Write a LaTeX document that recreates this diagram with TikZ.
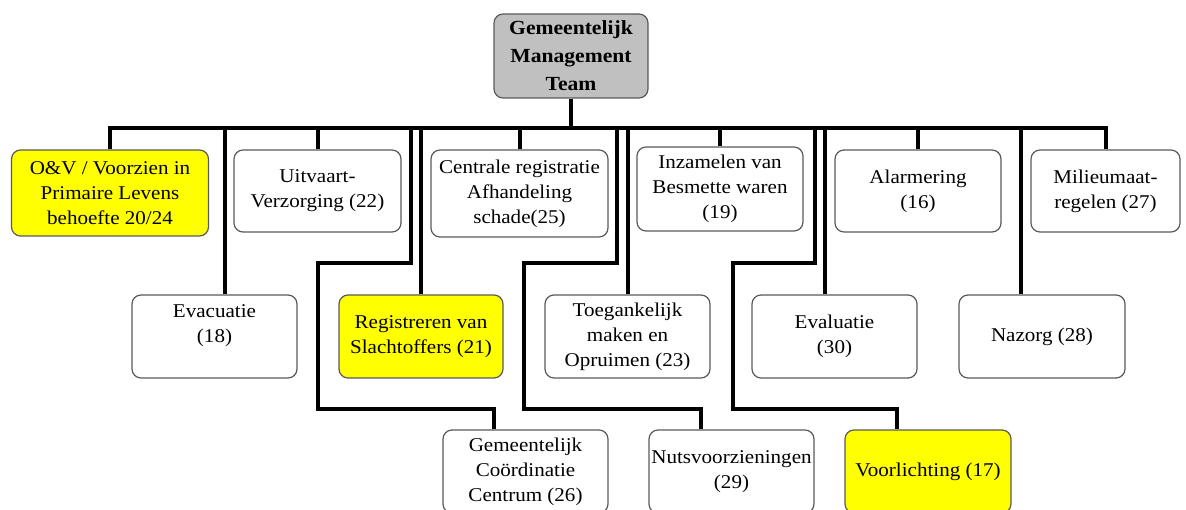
\documentclass[tikz,border=0pt]{standalone}
\usepackage{fontspec}
\setmainfont{Liberation Serif}[FakeStretch=1.08]
\usetikzlibrary{calc}
\definecolor{boxline}{HTML}{5A5A5A}
\definecolor{topfill}{HTML}{C0C0C0}
\definecolor{hl}{HTML}{FFFF00}
\begin{document}
\begin{tikzpicture}[x=1pt,y=-1pt,
  box/.style={draw=boxline,line width=1.2pt,rounded corners=9pt,fill=white,
    align=center,inner sep=0pt,minimum height=83pt,minimum width=165pt,
    font=\fontsize{19.5}{25}\selectfont},
  yel/.style={fill=hl},
  conn/.style={line width=4pt,black,line join=miter}]
\useasboundingbox (0,0) rectangle (1186,510);
\clip (0,0) rectangle (1186,510);
\coordinate (bus) at (0,128);
% top
\node[box,fill=topfill,minimum width=154pt,minimum height=84pt,
  font=\bfseries\fontsize{20}{28}\selectfont] (top) at (571,56)
  {Gemeentelijk\\Management\\Team};
% row 1
\node[box,yel,minimum width=197pt,minimum height=86pt] (ov) at (110,193) {O\&V / Voorzien in\\Primaire Levens\\behoefte 20/24};
\node[box,minimum width=167pt,minimum height=82pt] (uit) at (317.5,191) {Uitvaart-\\Verzorging (22)};
\node[box,minimum width=177pt,minimum height=87pt] (cen) at (519.5,193.5) {Centrale registratie\\Afhandeling\\schade(25)};
\node[box,minimum width=166pt,minimum height=84pt] (inz) at (720,189) {Inzamelen van\\Besmette waren\\(19)};
\node[box,minimum width=166pt,minimum height=82pt] (ala) at (918,191) {Alarmering\\(16)};
\node[box,minimum width=149pt,minimum height=82pt] (mil) at (1105.5,191) {Milieumaat-\\regelen (27)};
% row 2
\node[box] (eva) at (214.5,336.5) {Evacuatie\\(18)\\\mbox{}};
\node[box,yel,minimum width=164pt] (reg) at (421,336.5) {Registreren van\\Slachtoffers (21)};
\node[box] (toe) at (627.5,336.5) {Toegankelijk\\maken en\\Opruimen (23)};
\node[box] (evl) at (834.5,336.5) {Evaluatie\\(30)};
\node[box,minimum width=166pt] (naz) at (1042,336.5) {Nazorg (28)};
% row 3
\node[box] (gcc) at (525.5,471.5) {Gemeentelijk\\Coördinatie\\Centrum (26)};
\node[box] (nut) at (731.5,471.5) {Nutsvoorzieningen\\(29)};
\node[box,yel,minimum width=166pt] (voo) at (928,471.5) {Voorlichting (17)};
% connector anchors
\coordinate (evaT) at ([xshift=10.5pt]eva.north);
\coordinate (evlT) at ([xshift=-9.5pt]evl.north);
\coordinate (nazT) at ([xshift=-21pt]naz.north);
\coordinate (gccT) at ([xshift=-31.5pt]gcc.north);
\coordinate (nutT) at ([xshift=-30.5pt]nut.north);
\coordinate (vooT) at ([xshift=-31pt]voo.north);
\coordinate (gA) at (411,128); \coordinate (gB) at (318,263); \coordinate (gC) at (318,409);
\coordinate (nA) at (617,128); \coordinate (nB) at (524,263); \coordinate (nC) at (524,409);
\coordinate (vA) at (815,128); \coordinate (vB) at (733,263); \coordinate (vC) at (733,409);
% connectors
\draw[conn] (ov.north) -- (ov.north |- bus) -- (mil.north |- bus) -- (mil.north);
\draw[conn] (top.south) -- (top.south |- bus);
\draw[conn] (uit.north) -- (uit.north |- bus);
\draw[conn] (cen.north) -- (cen.north |- bus);
\draw[conn] (inz.north) -- (inz.north |- bus);
\draw[conn] (ala.north) -- (ala.north |- bus);
\draw[conn] (evaT) -- (evaT |- bus);
\draw[conn] (reg.north) -- (reg.north |- bus);
\draw[conn] (toe.north) -- (toe.north |- bus);
\draw[conn] (evlT) -- (evlT |- bus);
\draw[conn] (nazT) -- (nazT |- bus);
\draw[conn] (gA) |- (gB) -- (gC) -| (gccT);
\draw[conn] (nA) |- (nB) -- (nC) -| (nutT);
\draw[conn] (vA) |- (vB) -- (vC) -| (vooT);
\end{tikzpicture}
\end{document}
